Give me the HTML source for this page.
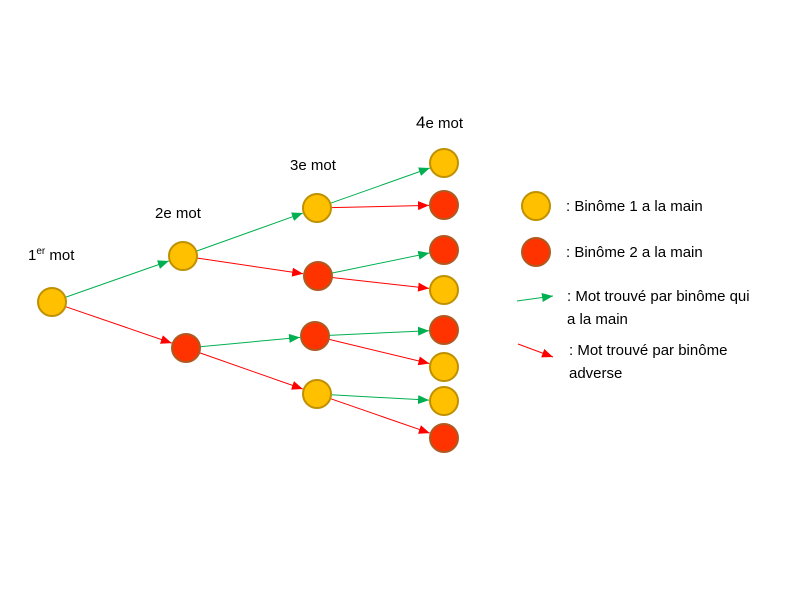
<!DOCTYPE html>
<html><head><meta charset="utf-8"><style>
html,body{margin:0;padding:0;background:#fff;}
svg{display:block;font-family:"Liberation Sans",Calibri,sans-serif;}
</style></head><body>
<svg id="s" width="800" height="600" viewBox="0 0 800 600" xmlns="http://www.w3.org/2000/svg">
<defs>
<marker id="mg" markerWidth="11" markerHeight="9" refX="11" refY="4.5" orient="auto" markerUnits="userSpaceOnUse"><path d="M0,0 L11,4.5 L0,9 z" fill="#00B050"/></marker>
<marker id="mr" markerWidth="11" markerHeight="9" refX="11" refY="4.5" orient="auto" markerUnits="userSpaceOnUse"><path d="M0,0 L11,4.5 L0,9 z" fill="#FF0000"/></marker>
</defs>
<g id="edges"></g>
<g id="nodes"></g>
<g font-size="15" fill="#000">
<text x="28" y="260">1<tspan font-size="10" dy="-6">er</tspan><tspan dy="6"> mot</tspan></text>
<text x="155" y="218">2e mot</text>
<text x="290" y="170">3e mot</text>
<text x="416" y="128"><tspan font-size="17">4</tspan>e mot</text>
<text x="566" y="211">: Binôme 1 a la main</text>
<text x="566" y="257">: Binôme 2 a la main</text>
<text x="567" y="301">: Mot trouvé par binôme qui</text>
<text x="567" y="324">a la main</text>
<text x="569" y="355">: Mot trouvé par binôme</text>
<text x="569" y="378">adverse</text>
</g>
<line x1="517" y1="301" x2="553" y2="296" stroke="#00B050" stroke-width="1" marker-end="url(#mg)"/>
<line x1="518" y1="344" x2="553" y2="357" stroke="#FF0000" stroke-width="1" marker-end="url(#mr)"/>
</svg>
<script>
var Y=1,R=2;
var N={A:[52,302,Y],B:[183,256,Y],C:[186,348,R],D:[317,208,Y],E:[318,276,R],F:[315,336,R],G:[317,394,Y],
a:[444,163,Y],b:[444,205,R],c:[444,250,R],d:[444,290,Y],e:[444,330,R],f:[444,367,Y],g:[444,401,Y],h:[444,438,R],
L1:[536,206,Y],L2:[536,252,R]};
var E=[["A","B","g"],["A","C","r"],["B","D","g"],["B","E","r"],["C","F","g"],["C","G","r"],
["D","a","g"],["D","b","r"],["E","c","g"],["E","d","r"],["F","e","g"],["F","f","r"],["G","g","g"],["G","h","r"]];
var ns="http://www.w3.org/2000/svg",r=14;
var eg=document.getElementById("edges"),ng=document.getElementById("nodes");
E.forEach(function(e){var p=N[e[0]],q=N[e[1]];var dx=q[0]-p[0],dy=q[1]-p[1],d=Math.sqrt(dx*dx+dy*dy);
var l=document.createElementNS(ns,"line");
l.setAttribute("x1",p[0]+dx/d*r);l.setAttribute("y1",p[1]+dy/d*r);
l.setAttribute("x2",q[0]-dx/d*(r+1));l.setAttribute("y2",q[1]-dy/d*(r+1));
l.setAttribute("stroke",e[2]=="g"?"#00B050":"#FF0000");l.setAttribute("stroke-width","1");
l.setAttribute("marker-end",e[2]=="g"?"url(#mg)":"url(#mr)");eg.appendChild(l);});
for(var k in N){var n=N[k];var c=document.createElementNS(ns,"circle");
c.setAttribute("cx",n[0]);c.setAttribute("cy",n[1]);c.setAttribute("r",r);
c.setAttribute("fill",n[2]==Y?"#FFC000":"#FF3300");c.setAttribute("stroke",n[2]==Y?"#BF9000":"#AE5A21");
c.setAttribute("stroke-width","2");ng.appendChild(c);}
</script>
</body></html>
